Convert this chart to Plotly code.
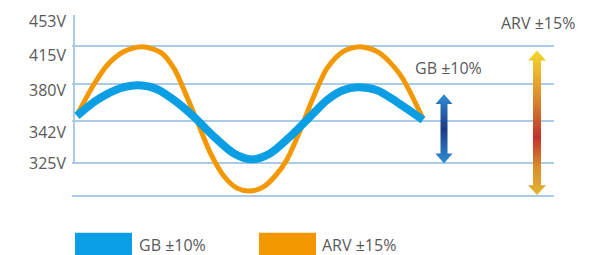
import plotly.graph_objects as go

# ---------------- data ----------------
tick_labels = ["453V", "415V", "380V", "342V", "325V"]
tick_levels = [181, 146, 111, 68, 37]          # level of each voltage label
grid_levels = [156, 117, 80, 37, 4]            # horizontal guide lines

orange_name = "ARV ±15%"
orange_x = [3, 20, 33, 50, 68, 87, 100, 113, 123, 137, 150, 163, 176, 189, 201, 213, 226, 239, 253, 269, 286, 305, 326, 349]
orange_y = [86, 117, 136, 150, 155, 149, 133, 104, 80, 46, 24, 12, 9, 13, 24, 41, 70, 103, 133, 150, 155, 149, 127, 82]

blue_name = "GB ±10%"
blue_x = [3, 20, 33, 50, 65, 83, 100, 120, 140, 160, 178, 196, 216, 233, 253, 269, 283, 303, 323, 349]
blue_y = [85, 99, 107, 114, 116, 112, 101, 84, 64, 47, 41, 47, 64, 81, 101, 111, 114, 111, 99, 81]

# range arrows: x position, bottom level, top level
gb_arrow = (370, 37, 107)
arv_arrow = (463, 5, 151)
axis_line = (0, 37, 187)   # x, bottom, top of the vertical axis line

# ---------------- styles ----------------
BLUE = "#0a9fe4"
ORANGE = "#f39800"
GRID = "#a9cbe8"
TEXT = "#595959"
FONT = "Open Sans"

W, H = 614, 255
ML, MR, MT, MB = 72, 60, 10, 55
PW, PH = W - ML - MR, H - MT - MB


def px_to_paper(px, py):
    return (px - ML) / PW, (H - MB - py) / PH


def arrow_polygon(xc, yb, yt, sw, hw, hl):
    xs = [xc, xc + hw, xc + sw, xc + sw, xc + hw, xc, xc - hw, xc - sw, xc - sw, xc - hw, xc]
    ys = [yt, yt - hl, yt - hl, yb + hl, yb + hl, yb, yb + hl, yb + hl, yt - hl, yt - hl, yt]
    return xs, ys


fig = go.Figure()

# orange curve (below), blue curve (on top)
fig.add_trace(go.Scatter(x=orange_x, y=orange_y, mode="lines", name=orange_name,
                         line=dict(color=ORANGE, width=5, shape="spline", smoothing=0.8),
                         hoverinfo="skip", showlegend=False))
fig.add_trace(go.Scatter(x=blue_x, y=blue_y, mode="lines", name=blue_name,
                         line=dict(color=BLUE, width=8, shape="spline", smoothing=0.8),
                         hoverinfo="skip", showlegend=False))

# gradient double arrows
gx, gy = arrow_polygon(gb_arrow[0], gb_arrow[1], gb_arrow[2], 3.5, 8.5, 10)
fig.add_trace(go.Scatter(x=gx, y=gy, mode="lines", fill="toself", line=dict(width=0),
                         fillgradient=dict(type="vertical",
                                           colorscale=[[0, "#2f8fd3"], [0.5, "#1a3a84"], [1, "#2f8fd3"]]),
                         hoverinfo="skip", showlegend=False))
ax_, ay_ = arrow_polygon(arv_arrow[0], arv_arrow[1], arv_arrow[2], 4, 9, 10)
fig.add_trace(go.Scatter(x=ax_, y=ay_, mode="lines", fill="toself", line=dict(width=0),
                         fillgradient=dict(type="vertical",
                                           colorscale=[[0, "#e0b531"], [0.2, "#d98b2c"], [0.4, "#c1312b"],
                                                       [0.68, "#dc8e2c"], [1, "#f4d82c"]]),
                         hoverinfo="skip", showlegend=False))
# dummy trace on secondary axis so it renders grid lines
fig.add_trace(go.Scatter(x=[None], y=[None], yaxis="y2", showlegend=False, hoverinfo="skip"))

shapes = [dict(type="line", xref="x", yref="y", x0=axis_line[0], x1=axis_line[0],
               y0=axis_line[1], y1=axis_line[2], line=dict(color=GRID, width=2), layer="below")]

# custom legend
annotations = []
for (px0, px1, ptx, color, label) in [(75, 132, 137, BLUE, blue_name), (259, 316, 320, ORANGE, orange_name)]:
    x0, y0 = px_to_paper(px0, 233)
    x1, y1 = px_to_paper(px1, 256)
    shapes.append(dict(type="rect", xref="paper", yref="paper", x0=x0, x1=x1, y0=y1, y1=y0,
                       fillcolor=color, line=dict(width=0)))
    tx, ty = px_to_paper(ptx, 245)
    annotations.append(dict(xref="paper", yref="paper", x=tx, y=ty, text=label, showarrow=False,
                            xanchor="left", yanchor="middle", font=dict(family=FONT, size=16, color=TEXT)))

annotations.append(dict(x=gb_arrow[0] + 4, y=133, text=blue_name, showarrow=False,
                        xanchor="center", yanchor="middle", font=dict(family=FONT, size=16, color=TEXT)))
annotations.append(dict(x=arv_arrow[0] + 0.5, y=179, text=orange_name, showarrow=False,
                        xanchor="center", yanchor="middle", font=dict(family=FONT, size=16, color=TEXT)))

fig.update_layout(
    width=W, height=H,
    margin=dict(l=ML, r=MR, t=MT, b=MB, pad=0),
    paper_bgcolor="white", plot_bgcolor="white",
    font=dict(family=FONT, size=16, color=TEXT),
    xaxis=dict(range=[-2, 480], showgrid=False, zeroline=False, showticklabels=False,
               showline=False, ticks="", fixedrange=True),
    yaxis=dict(range=[0, 190], tickvals=tick_levels, ticktext=tick_labels, showgrid=False,
               zeroline=False, showline=False, ticks="", ticklabelstandoff=5,
               tickfont=dict(family=FONT, size=16, color=TEXT), fixedrange=True),
    yaxis2=dict(range=[0, 190], overlaying="y", tickvals=grid_levels, showgrid=True,
                gridcolor=GRID, gridwidth=2, showticklabels=False, zeroline=False,
                showline=False, ticks="", fixedrange=True),
    shapes=shapes,
    annotations=annotations,
    showlegend=False,
)

fig.write_html("out.html", config={"displayModeBar": False, "responsive": False},
               post_script="document.body.style.margin='0px';document.body.style.overflow='hidden';")
